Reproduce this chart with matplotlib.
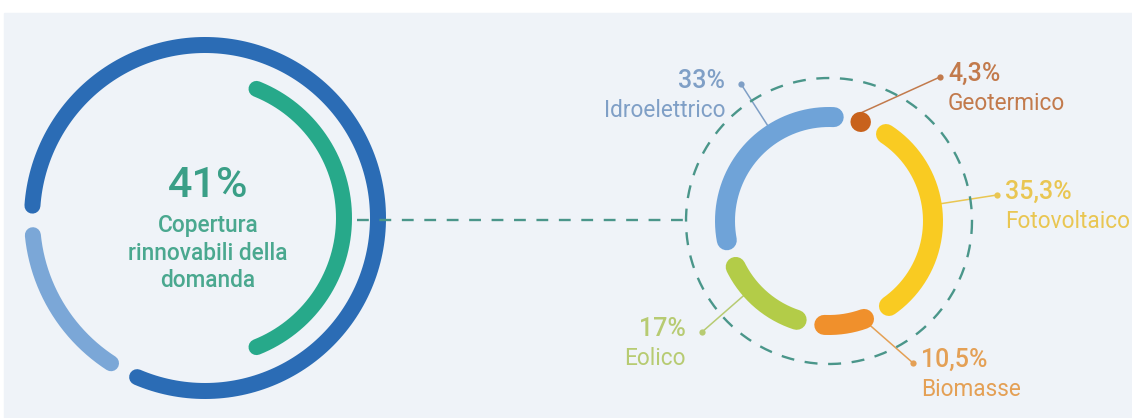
import numpy as np
import matplotlib.pyplot as plt
from matplotlib.patches import Rectangle

plt.rcParams['font.family'] = ['Roboto', 'DejaVu Sans']

# Renewable coverage of total demand
coverage_pct = 41
coverage_text = ["Copertura", "rinnovabili della", "domanda"]

# Outer ring of the left gauge (light / dark share)
outer_ring_shares = [17, 83]

# Renewable mix, clockwise from the top
source_names = ["Geotermico", "Fotovoltaico", "Biomasse", "Eolico", "Idroelettrico"]
source_pct = [4.3, 35.3, 10.5, 17, 33]

source_colors = ["#c8621c", "#f9cb22", "#f0902c", "#b3cc48", "#6fa3d8"]
label_colors = ["#c27a4c", "#e9c652", "#e4a055", "#b7cb72", "#7f9fc6"]

W, H = 1132, 418
PX = 0.72  # points per pixel at dpi=100
GAP = 4.5  # degrees between ring segments


def pct_label(v):
    return f"{v:g}".replace('.', ',') + '%'


def arc(ax, cx, cy, r, a_start, a_end, color, lw_px, **kw):
    # a_start/a_end in degrees (math orientation), y axis points down
    t = np.radians(np.linspace(a_start, a_end, 200))
    ax.plot(cx + r * np.cos(t), cy - r * np.sin(t), color=color,
            lw=lw_px * PX, solid_capstyle='round', **kw)


def segment(ax, cx, cy, r, a_from, span, color, lw_px, direction=1):
    # rounded segment whose visible extent (caps included) is span - GAP
    cap = np.degrees((lw_px / 2) / r)
    body = max(span - GAP - 2 * cap, 0.3)
    mid = a_from + direction * span / 2
    arc(ax, cx, cy, r, mid - direction * body / 2, mid + direction * body / 2, color, lw_px)
    return mid


fig = plt.figure(figsize=(W / 100, H / 100), dpi=100)
fig.patch.set_facecolor('white')
ax = fig.add_axes([0, 0, 1, 1])
ax.set_xlim(0, W)
ax.set_ylim(H, 0)
ax.set_aspect('equal')
ax.axis('off')
ax.add_patch(Rectangle((4, 13), W, H, color='#eff3f8', zorder=0))

# ---- left gauge ----
lcx, lcy = 205, 218
a = 180.8
for share, col in zip(outer_ring_shares, ["#7ba7d7", "#2b6cb5"]):
    span = share * 3.6
    segment(ax, lcx, lcy, 173, a, span, col, 16, direction=1)
    a += span

cov_span = coverage_pct * 3.6
segment(ax, lcx, lcy, 139, -cov_span / 2, cov_span, "#27a98a", 16)

ax.text(lcx + 3, 197, f"{coverage_pct}%", ha='center', va='baseline',
        fontsize=31, color="#3a9f87", fontweight='medium')
for txt, yb in zip(coverage_text, [232, 260, 287]):
    ax.text(lcx + 3, yb, txt, ha='center', va='baseline', fontsize=16.3,
            color="#4aa88f", fontweight='medium')

# connector between the two charts
rcx, rcy = 829, 221
ax.plot([357, rcx - 143], [220, 220], color="#4a968a", lw=1.7,
        dashes=(5, 4.5))
t = np.linspace(0, 2 * np.pi, 400)
ax.plot(rcx + 143 * np.cos(t), rcy + 143 * np.sin(t), color="#4a968a",
        lw=1.7, dashes=(5.5, 4.5))

# ---- right donut ----
dot_xy = [(940, 77), (997, 195), (913, 363), (702, 332), (741, 84)]
text_side = ['left', 'left', 'left', 'right', 'right']
a = 80.0
for name, v, col, tcol, (dx, dy), side in zip(source_names, source_pct, source_colors,
                                               label_colors, dot_xy, text_side):
    span = v * 3.6
    segment(ax, rcx, rcy, 104, a, span, col, 20, direction=-1)
    a_hi, a_lo = a, a - span
    a -= span
    # leader line: point at the label if possible, otherwise stay on the segment
    toward = np.degrees(np.arctan2(rcy - dy, dx - rcx))
    while toward > a_hi:
        toward -= 360
    while toward < a_lo:
        toward += 360
    m = min(6.0, span / 2)
    ang = np.radians(np.clip(toward, a_lo + m, a_hi - m))
    ex = rcx + 112 * np.cos(ang)
    ey = rcy - 112 * np.sin(ang)
    ax.plot([ex, dx], [ey, dy], color=tcol, lw=1.1, zorder=1)
    ax.plot(dx, dy, 'o', ms=4.5, color=tcol, mec='none')
    if side == 'left':
        tx = dx + 8
    else:
        tx = dx - 16
    ax.text(tx, dy + 4, pct_label(v), ha=side, va='baseline', fontsize=18,
            color=tcol, fontweight='medium')
    ax.text(tx, dy + 33, name, ha=side, va='baseline', fontsize=16.3,
            color=tcol)

fig.savefig("out.png", dpi=100, facecolor=fig.get_facecolor())
